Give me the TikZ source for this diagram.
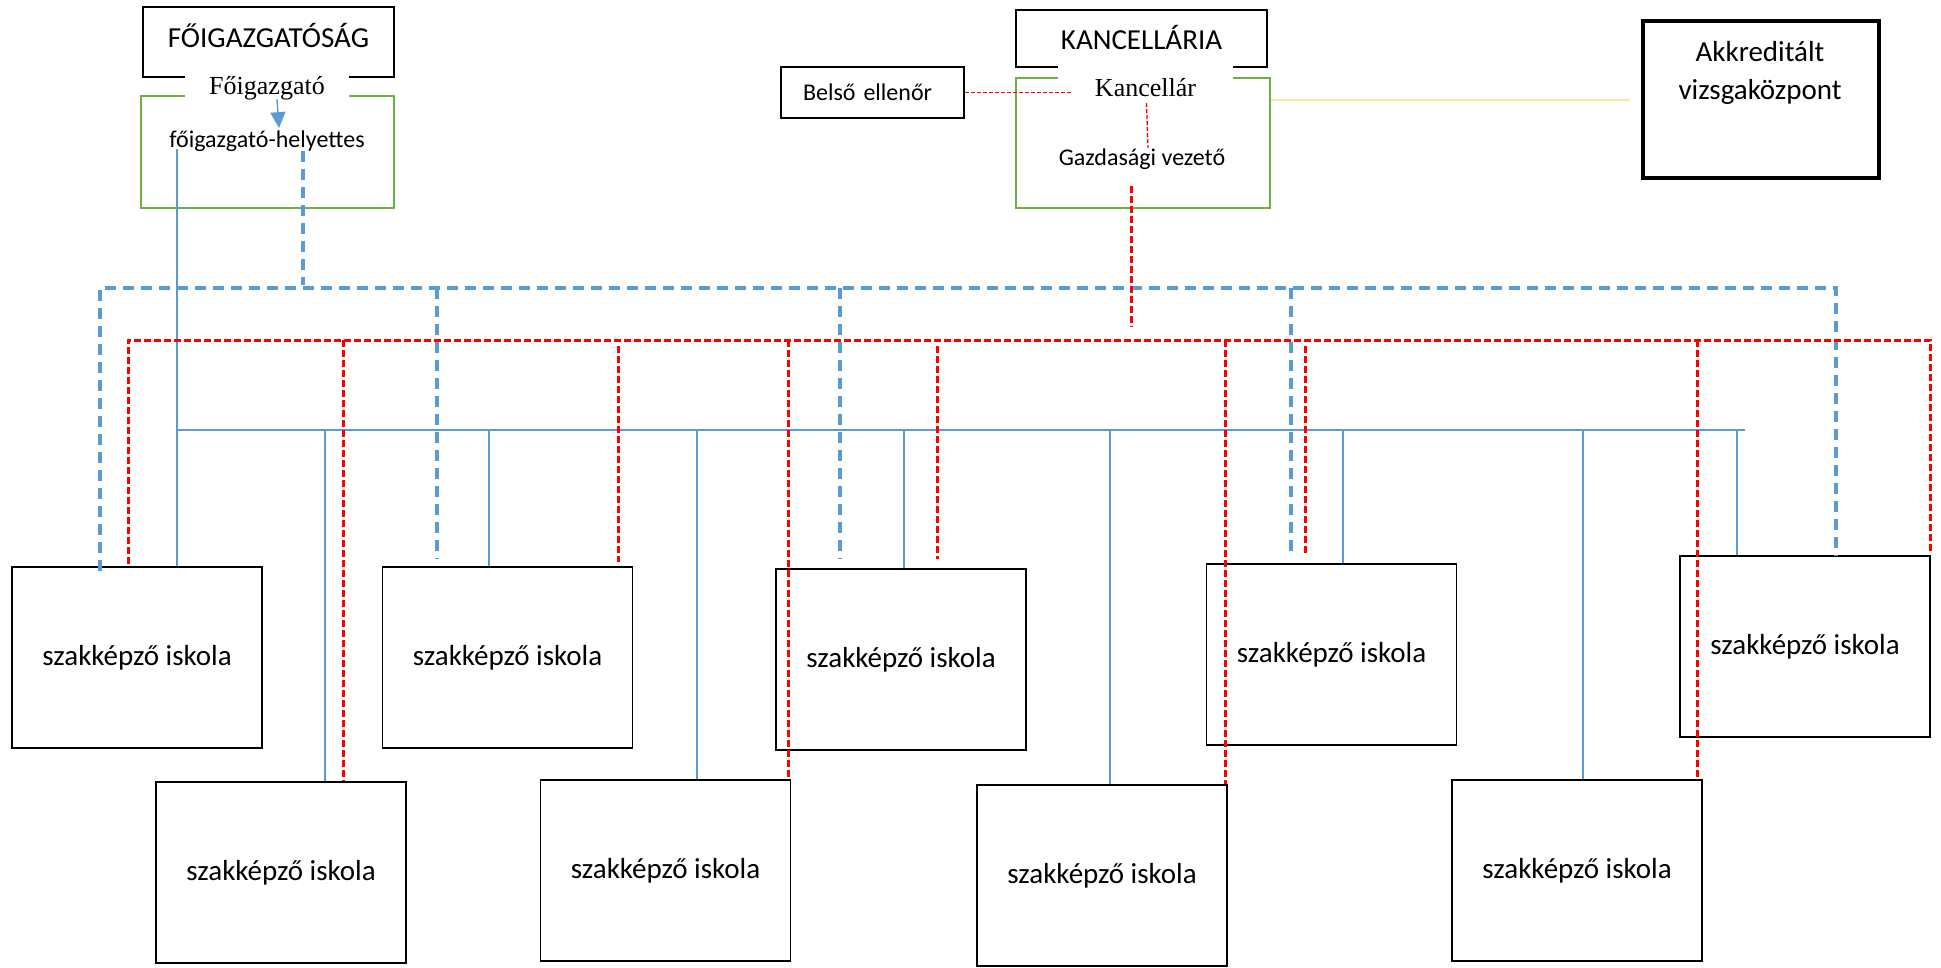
\documentclass[tikz,border=0pt]{standalone}
\usepackage{fontspec}
\setmainfont{Carlito}
\newfontfamily\tms{Liberation Serif}
\usetikzlibrary{arrows.meta}
\usetikzlibrary{calc}
\definecolor{kek}{RGB}{91,155,213}
\definecolor{zold}{RGB}{112,173,71}
\definecolor{sarga}{RGB}{255,230,153}

\begin{document}
\begin{tikzpicture}[x=1pt,y=1pt,yscale=-1,xscale=1,
  iskola/.style={draw, line width=1.8pt, minimum width=250pt, minimum height=181pt, inner sep=0pt, font=\fontsize{29}{35}\selectfont},
  fejdoboz/.style={draw, line width=1.8pt, minimum width=251pt, inner sep=0pt, anchor=base, font=\fontsize{29}{35}\selectfont},
  zolddoboz/.style={draw=zold, line width=2.6pt, inner sep=0pt},
  res/.style={fill=white, inner sep=0pt, anchor=base, font=\tms\fontsize{26}{31}\selectfont},
  kisbetu/.style={inner sep=0pt, anchor=base, font=\fontsize{24}{29}\selectfont},
  kekszag/.style={draw=kek, line width=3.2pt, dash pattern=on 11pt off 7pt},
  kekvonal/.style={draw=kek, line width=1.3pt},
  pirosszag/.style={draw=red, line width=3pt, dash pattern=on 7pt off 3pt},
  pirosfinom/.style={draw=red, line width=1.3pt, dash pattern=on 4pt off 2pt}]
\useasboundingbox (0,0) rectangle (1941,967);

%Shape: Rectangle [foigazgatosag]
\node[fejdoboz, text height=40pt, text depth=30pt] (foig) at (268.5,47) {FŐIGAZGATÓSÁG};
%Shape: Rectangle [kancellaria]
\node[fejdoboz, text height=39pt, text depth=18pt] (kanc) at (1141.5,49) {KANCELLÁRIA};
%Shape: Rectangle [zold dobozok]
\node[zolddoboz, minimum width=253pt, minimum height=112pt] (bal) at (267.5,152) {};
\node[zolddoboz, minimum width=254pt, minimum height=130pt] (jobb) at (1143,143) {};

% Text Node
\node[res, minimum width=164pt, text height=19pt, text depth=5pt] (foigazgato) at (267,94) {Főigazgató};
% Text Node
\node[res, minimum width=175pt, text height=32pt, text depth=4pt] (kancellar) at (1145.5,96) {Kancellár};
% Text Node
\node[kisbetu] (helyettes) at (267,147) {főigazgató-helyettes};
% Text Node
\node[kisbetu] (gazdvez) at (1142,165) {Gazdasági vezető};

%Shape: Rectangle [belso ellenor]
\node[draw, line width=1.8pt, text width=139pt, align=left, inner xsep=22pt, inner ysep=0pt, text height=33pt, text depth=18pt, anchor=base, font=\fontsize{24}{29}\selectfont] (belso) at (872.5,100) {Belső ellenőr};
%Shape: Rectangle [vizsgakozpont]
\node[draw, line width=3.2pt, minimum width=236pt, minimum height=157pt] (akk) at (1761,99.5) {};
% Text Node
\node[align=center, inner sep=0pt, font=\fontsize{29}{38}\selectfont] (akkszoveg) at (1760,73) {Akkreditált\\vizsgaközpont};

%Shape: Rectangle [iskolak, felso sor]
\node[iskola] (isk1) at (137,657.5) {szakképző iskola};
\node[iskola] (isk2) at (507.5,657.5) {szakképző iskola};
\node[iskola] (isk3) at (901,659.5) {szakképző iskola};
\node[iskola] (isk4) at (1331.5,654.5) {szakképző iskola};
\node[iskola] (isk5) at (1805,646.5) {szakképző iskola};
%Shape: Rectangle [iskolak, also sor]
\node[iskola] (isk6) at (281,872.5) {szakképző iskola};
\node[iskola] (isk7) at (665.5,870.5) {szakképző iskola};
\node[iskola] (isk8) at (1102,875.5) {szakképző iskola};
\node[iskola] (isk9) at (1577,870.5) {szakképző iskola};

% Connection
\draw[kekvonal, -{Triangle[length=16pt,width=15pt]}] ($(foigazgato.south)+(10,0)$) -- ($(helyettes.north)+(12,-2)$);
% Connection
\draw[pirosfinom] (belso.east) -- ([xshift=15pt]kancellar.west |- belso.east);
% Connection
\draw[pirosfinom] ($(kancellar.south)+(1,3)$) -- ($(gazdvez.north)+(6,0)$);
% Connection
\draw[sarga, line width=2pt] (jobb.east |- akk.west) -- ($(akk.west)+(-11,0)$);

% Connection: kek folytonos
\coordinate (kb1) at (177,430);
\coordinate (kb2) at (1745,430);
\draw[kekvonal] (kb1) -- (kb2);
\draw[kekvonal] ($(bal.south)+(-90.5,-60)$) -- ([xshift=40pt]isk1.north);
\foreach \isk/\dx in {isk6/44, isk2/-18.5, isk7/31.5, isk3/3, isk8/8, isk4/11.5, isk9/6, isk5/-68}
  \draw[kekvonal] ([xshift=\dx pt]\isk.north |- kb1) -- ([xshift=\dx pt]\isk.north);

% Connection: kek szaggatott
\coordinate (ksz1) at (100,288);
\coordinate (ksz2) at (1836,288);
\draw[kekszag] ($(bal.south)+(35.5,-58)$) -- ($(bal.south)+(35.5,76)$);
\draw[kekszag] ($(isk1.north)+(-37,5)$) |- (ksz2) -- ([xshift=31pt]isk5.north);
\foreach \isk/\dx/\hezag in {isk2/-70.5/7, isk3/-61/9, isk4/-40.5/6}
  \draw[kekszag] ([xshift=\dx pt]\isk.north |- ksz1) -- ($(\isk.north)+(\dx,-\hezag)$);

% Connection: piros szaggatott
\coordinate (psz1) at (128,340);
\coordinate (psz2) at (1930,340);
\draw[pirosszag] ($(jobb.south)+(-12,-23)$) -- ($(jobb.south |- psz1)+(-12,-13)$);
\draw[pirosszag] ($(isk1.north)+(-9,-2)$) |- (psz2) -- ($(isk5.north)+(125,-4)$);
\foreach \isk/\dx in {isk6/62, isk7/122.5, isk8/123, isk9/120}
  \draw[pirosszag] ([xshift=\dx pt]\isk.north |- psz1) -- ([xshift=\dx pt]\isk.north);
\foreach \isk/\dx/\hezag in {isk2/110.5/4, isk3/36/9, isk4/-26.5/10}
  \draw[pirosszag] ($(\isk.north |- psz1)+(\dx,6)$) -- ($(\isk.north)+(\dx,-\hezag)$);

\end{tikzpicture}
\end{document}
